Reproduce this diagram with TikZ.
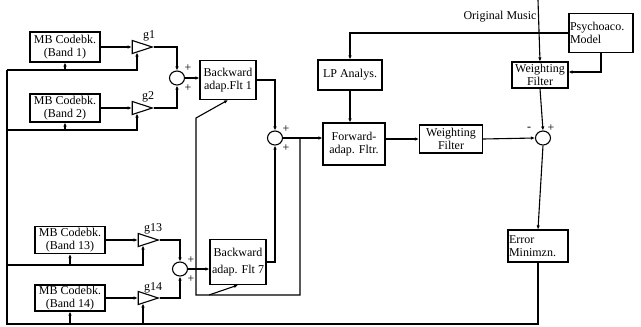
\documentclass[tikz,border=0pt]{standalone}
\usepackage{fontspec}
\setmainfont{Liberation Serif}
\usepackage{tikz}
\usetikzlibrary{arrows.meta,positioning,calc,shapes.geometric}

\begin{document}
\begin{tikzpicture}[
    x=1pt, y=-1pt,
    font=\fontsize{12}{12.5}\selectfont,
    line width=1.1pt,
    blk/.style={draw, align=center, inner sep=1pt},
    amp/.style={draw, isosceles triangle, isosceles triangle stretches,
      minimum width=13pt, minimum height=20pt, inner sep=0pt},
    sumj/.style={draw, ellipse, minimum width=15pt, minimum height=14pt, inner sep=0pt},
    arr/.style={-{Latex[length=4pt,width=3.5pt]}},
    lbl/.style={inner sep=0pt}
  ]
    \useasboundingbox (0,0) rectangle (641,327);

    \node[blk, minimum width=70pt, minimum height=30pt] (cb1) at (65,47) {MB Codebk.\\(Band 1)};
    \node[blk, minimum width=70pt, minimum height=28pt] (cb2) at (65,108) {MB Codebk.\\(Band 2)};
    \node[blk, minimum width=70pt, minimum height=27pt] (cb13) at (70,240) {MB Codebk.\\(Band 13)};
    \node[blk, minimum width=70pt, minimum height=26pt] (cb14) at (70,298) {MB Codebk.\\(Band 14)};

    \node[amp] (amp1) at (137,47) {};
    \node[amp] (amp2) at (137,108) {};
    \node[amp] (amp13) at (143,240) {};
    \node[amp] (amp14) at (143,298) {};
    \node[lbl] (g1) at (149,36) {g1};
    \node[lbl] (g2) at (148,97) {g2};
    \node[lbl] (g13) at (153,229) {g13};
    \node[lbl] (g14) at (153,288) {g14};

    \node[sumj] (sum1) at (177,78) {};
    \node[sumj] (sum2) at (180,269) {};
    \node[sumj] (sum3) at (275,138) {};
    \node[sumj] (sum5) at (543,138) {};

    \node[blk, minimum width=56pt, minimum height=39pt] (bwd1) at (228,80) {Backward\\adap.Flt 1};
    \node[blk, minimum width=56pt, minimum height=45pt] (bwd7) at (238,262) {Backward\\[4pt]adap. Flt 7};
    \node[blk, minimum width=62pt, minimum height=42pt] (fwd) at (354,144) {Forward-\\adap. Fltr.};
    \node[blk, minimum width=64pt, minimum height=30pt] (lpa) at (350,75) {LP Analys.};
    \node[blk, minimum width=63pt, minimum height=28pt] (wf2) at (451,139) {Weighting\\Filter};
    \node[blk, minimum width=56pt, minimum height=26pt] (wf1) at (540,75) {Weighting\\Filter};
    \node[blk, align=left, text width=62pt, minimum height=39pt] (psy) at (601,33) {Psychoaco.\\Model};
    \node[blk, align=left, text width=58pt, minimum height=32pt] (err) at (538,246) {Error\\Minimzn.};
    \node[lbl] (om) at (500,17) {Original Music};

    \node[lbl] at (188,68) {+};
    \node[lbl] at (188,88) {+};
    \node[lbl] at (191,260) {+};
    \node[lbl] at (191,279) {+};
    \node[lbl] at (286,129) {+};
    \node[lbl] at (286,148) {+};
    \node[lbl] at (551,128) {+};
    \node[lbl] at (529,129) {-};

    \coordinate (tl) at (7,70);
    \coordinate (l2) at (7,130);
    \coordinate (l13) at (7,265);
    \coordinate (bl) at (7,324);
    \coordinate (tap) at (300,138);
    \coordinate (fbc) at (196,295);
    \coordinate (fbk) at (196,118);
    \coordinate (fb7) at (209,295);
    \coordinate (omtop) at (538,0);

    \draw[arr] (cb1.east) -- (amp1.west);
    \draw[arr] (cb2.east) -- (amp2.west);
    \draw[arr] (cb13.east) -- (amp13.west);
    \draw[arr] (cb14.east) -- (amp14.west);
    \draw[arr] (amp1.east) -| (sum1.north);
    \draw[arr] (amp2.east) -| (sum1.south);
    \draw[arr] (amp13.east) -| (sum2.north);
    \draw[arr] (amp14.east) -| (sum2.south);
    \draw[arr] (sum1.east) -- (sum1.east -| bwd1.west);
    \draw[arr] (sum2.east) -- (sum2.east -| bwd7.west);
    \draw[arr] (bwd1.east) -| (sum3.north);
    \draw[arr] (bwd7.east) -| (sum3.south);
    \draw[arr] (sum3.east) -- (sum3.east -| fwd.west);
    \draw[arr] (tap) |- (fbc) -- (fbk) -- (bwd1.south);
    \draw[arr] (fb7) -- (bwd7.south);
    \draw[arr] (lpa.south) -- (lpa.south |- fwd.north);
    \draw[arr] (psy.west) -| (lpa.north);
    \draw[arr] (omtop) -- (wf1.north);
    \draw[arr] (psy.south) |- ([yshift=3pt]wf1.east);
    \draw[arr] (wf1.south) -- (sum5.north);
    \draw[arr] (wf2.west -| fwd.east) -- (wf2.west);
    \draw[arr] (wf2.east) -- (sum5.west);
    \draw[arr] (sum5.south) -- (err.north);
    \draw (err.south) |- (bl) -- (tl);
    \draw[arr] (tl) -| (amp1.south);
    \draw[arr] (cb1.south |- tl) -- (cb1.south);
    \draw[arr] (l2) -| (amp2.south);
    \draw[arr] (cb2.south |- l2) -- (cb2.south);
    \draw[arr] (l13) -| (amp13.south);
    \draw[arr] (cb13.south |- l13) -- (cb13.south);
    \draw[arr] (amp14.south |- bl) -- (amp14.south);
    \draw[arr] (cb14.south |- bl) -- (cb14.south);
  \end{tikzpicture}
\end{document}
